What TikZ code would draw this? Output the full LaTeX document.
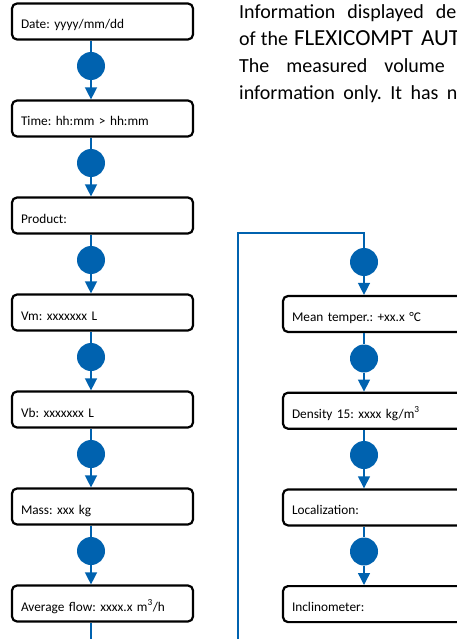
\documentclass[tikz,border=0pt]{standalone}
\usepackage{fontspec}
\setmainfont{Carlito}
\frenchspacing
\usetikzlibrary{arrows.meta,positioning}
\definecolor{flowblue}{HTML}{0062AF}
\definecolor{boxink}{HTML}{000000}

\begin{document}
\begin{tikzpicture}[x=1pt, y=-1pt,
  infobox/.style={draw=boxink, line width=2.2pt, rounded corners=5pt,
    minimum width=181pt, minimum height=36pt, inner xsep=9pt, inner ysep=0pt,
    text width=163pt, text height=15pt, text depth=0pt, align=left,
    font=\fontsize{13.3}{15}\selectfont},
  stepdot/.style={circle, fill=flowblue, minimum size=28pt, inner sep=0pt},
  flowline/.style={flowblue, line width=1.4pt},
  flowarrow/.style={flowline, -{Triangle[length=12pt, width=12pt]}},
  notetext/.style={anchor=base west, inner sep=0pt, font=\fontsize{20}{26.7}\selectfont}]
  \useasboundingbox (0,0) rectangle (457,639);
  \clip (0,0) rectangle (457,639);

  % Note at the top right (justified lines, cut at the edge)
  \node[notetext] (note1) at (239,18.5) {Information\hspace{12pt}displayed\hspace{12pt}de};
  \node[notetext] (note2) at (239,45.5) {of\hspace{5pt}the\hspace{6pt}{\fontsize{23}{26.7}\selectfont FLEXICOMPT\hspace{8pt}AUT}};
  \node[notetext] (note3) at (239,72.5) {The\hspace{17pt}measured\hspace{17pt}volume};
  \node[notetext] (note4) at (239,99.2) {information\hspace{8.5pt}only.\hspace{8.5pt}It\hspace{8.5pt}has\hspace{8.5pt}n};

  % Left column
  \foreach \txt [count=\i from 0] in {Date: yyyy/mm/dd, Time: hh:mm > hh:mm, Product:,
      Vm: xxxxxxx L, Vb: xxxxxxx L, Mass: xxx kg, Average flow: xxxx.x m\textsuperscript{3}/h}
    \node[infobox] (L\i) at (102.5,21.5+97*\i) {\txt};
  \foreach \i [count=\j from 1] in {0,...,5} {
    \node[stepdot] (dot\j) at (91,66+97*\i) {};
    \draw[flowline] (L\i.south -| dot\j) -- (dot\j.north);
    \draw[flowarrow] (dot\j.south) -- (dot\j |- L\j.north);
  }

  % Right column
  \foreach \txt [count=\i from 0] in {Mean temper.: +xx.x °C, Density 15: xxxx kg/m\textsuperscript{3},
      Localization:, Inclinometer:} {
    \node[infobox] (R\i) at (373.5,314+96.7*\i) {\txt};
    \node[stepdot] (rdot\i) at (364,262+96.5*\i) {};
    \draw[flowarrow] (rdot\i.south) -- (rdot\i |- R\i.north);
  }
  \foreach \i [count=\j from 1] in {0,1,2}
    \draw[flowline] (R\i.south -| rdot\j) -- (rdot\j.north);

  % Loop back from the left column
  \coordinate (turn) at (238,233);
  \draw[flowline] (L6.south -| dot6) -- ++(0,40) -| (turn) -| (rdot0.north);
\end{tikzpicture}
\end{document}
